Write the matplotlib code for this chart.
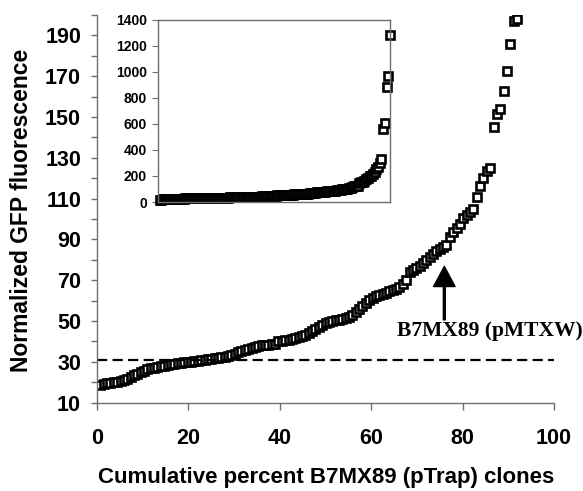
import matplotlib
matplotlib.use("Agg")
import matplotlib.pyplot as plt
import numpy as np

# Sorted normalized GFP fluorescence of B7MX89 (pTrap) clones
gfp_values = [
    18.5, 19, 19.5, 19.8, 20, 20.2, 20.5, 21, 21.5, 22.5,
    23.5, 24, 25, 25.5, 26.5, 27, 27.2, 27.5, 28, 28.2,
    28.5, 29, 29.2, 29.4, 29.6, 29.8, 30, 30.1, 30.3, 30.5,
    30.7, 31, 31.2, 31.5, 31.8, 32, 32.2, 32.5, 32.8, 33.2,
    34, 35, 35.5, 36, 36.5, 37, 37.5, 38, 38.2, 38.3,
    38.5, 38.7, 39, 40, 40.2, 40.5, 40.8, 41, 41.5, 42,
    42.5, 43, 44, 45, 46, 47, 48, 49, 49.5, 50,
    50.3, 50.6, 51, 51.5, 52, 53, 54.5, 56, 57.5, 59,
    60.5, 61.5, 62.5, 63, 63.5, 64, 64.5, 65, 65.5, 66.5,
    68, 70, 74, 75, 76, 77, 78.5, 80, 81.5, 83,
    84.5, 85.5, 86.5, 87.5, 91, 93.5, 95.5, 97.5, 100.5, 102,
    103.5, 105, 111, 116, 120, 123.5, 125, 145, 151.7, 154,
    162.7, 172.8, 185.6, 197, 198, 212, 230, 250, 272, 298,
    327, 563, 607, 882, 964, 1283,
]
n_clones = len(gfp_values)
cum_percent = [100.0 * (i + 1) / n_clones for i in range(n_clones)]

threshold = 31
arrow_x = 76
arrow_tip = 76.8
arrow_tail = 50.6
label_text = "B7MX89 (pMTXW)"

main_xticks = [0, 20, 40, 60, 80, 100]
main_yticks = list(range(10, 201, 10))
main_ylabels = [str(v) if (v - 10) % 20 == 0 and v < 200 else "" for v in main_yticks]
inset_yticks = [0, 200, 400, 600, 800, 1000, 1200, 1400]

W, H = 583, 491
fig = plt.figure(figsize=(W / 100, H / 100), dpi=100)

def fx(px):
    return px / W

def fy(py):
    return 1 - py / H

sans = "Liberation Sans"
axis_gray = "#6e6e6e"

# main axes
ax = fig.add_axes([fx(97), fy(402.7), fx(554) - fx(97), fy(15) - fy(402.7)])
ax.plot(cum_percent, gfp_values, linestyle="none", marker="s", ms=5.6,
        mfc="white", mec="black", mew=1.9)
ax.plot([0, 100], [threshold, threshold], color="black", lw=1.6,
        dashes=(4.6, 2.4))
ax.set_xlim(0, 100)
ax.set_ylim(10, 200)
ax.set_xticks(main_xticks)
ax.set_xticklabels([str(v) for v in main_xticks], fontfamily=sans,
                   fontweight="bold", fontsize=15.5)
ax.set_yticks(main_yticks)
ax.set_yticklabels(main_ylabels, fontfamily=sans, fontweight="bold",
                   fontsize=15.5)
for s in ["top", "right"]:
    ax.spines[s].set_visible(False)
for s in ["left", "bottom"]:
    ax.spines[s].set_color(axis_gray)
    ax.spines[s].set_linewidth(1.0)
ax.tick_params(axis="x", direction="out", length=5, width=1.0,
               color=axis_gray, pad=13)
ax.tick_params(axis="y", direction="out", length=4.5, width=1.0,
               color=axis_gray, pad=7)

ax.annotate("", xy=(arrow_x, arrow_tip), xytext=(arrow_x, arrow_tail),
            arrowprops=dict(facecolor="black", edgecolor="black", width=1.4,
                            headwidth=15.5, headlength=14.5, shrink=0))
ax.text(85.9, 45.2, label_text, fontfamily="Liberation Serif",
        fontweight="bold", fontsize=15.5, ha="center", va="center")

fig.text(fx(22), fy(210), "Normalized GFP fluorescence", rotation=90,
         ha="center", va="center", fontfamily=sans, fontweight="bold",
         fontsize=16.5)
fig.text(fx(326), fy(477), "Cumulative percent B7MX89 (pTrap) clones",
         ha="center", va="center", fontfamily=sans, fontweight="bold",
         fontsize=16)

# inset axes
ins = fig.add_axes([fx(158), fy(202), fx(390) - fx(158), fy(19.5) - fy(202)])
ins.plot(cum_percent, gfp_values, linestyle="none", marker="s", ms=5.6,
         mfc="white", mec="black", mew=1.9, clip_on=False)
ins.set_xlim(0, 100)
ins.set_ylim(0, 1400)
ins.set_xticks([])
ins.set_yticks(inset_yticks)
ins.set_yticklabels([str(v) for v in inset_yticks], fontfamily=sans,
                    fontweight="bold", fontsize=10)
for s in ins.spines.values():
    s.set_color(axis_gray)
    s.set_linewidth(1.0)
ins.tick_params(axis="y", direction="out", length=4, width=0.8,
                color=axis_gray, pad=4)

fig.savefig("out.png", dpi=100)
